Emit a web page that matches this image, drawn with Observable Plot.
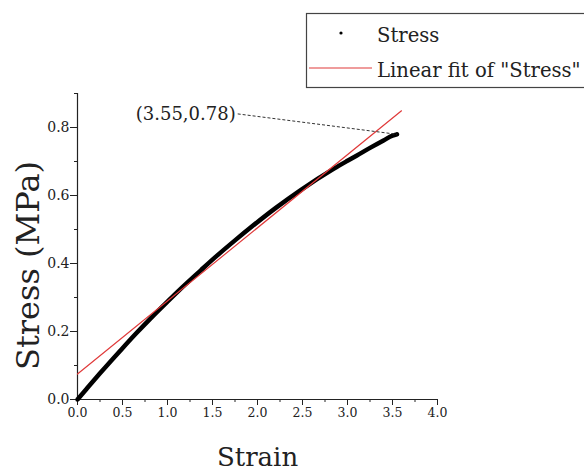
<!DOCTYPE html>
<html>
<head>
<meta charset="utf-8">
<script src="https://cdn.jsdelivr.net/npm/d3@7"></script>
<script src="https://cdn.jsdelivr.net/npm/@observablehq/plot@0.6"></script>
<style>
  body { margin: 0; background: white; }
  #wrap { position: relative; width: 584px; height: 471px; }
  #legend { position: absolute; left: 0; top: 0; }
</style>
</head>
<body>
<div id="wrap"></div>
<script>
// Stress–strain curve
const strain = [0, 0.1, 0.25, 0.48, 0.65, 0.81, 1.0, 1.14, 1.37, 1.55, 1.75, 1.92, 2.2, 2.48, 2.85, 3.0, 3.1, 3.25, 3.4, 3.5, 3.55];
const stress = [0, 0.031, 0.077, 0.145, 0.194, 0.238, 0.288, 0.324, 0.38, 0.423, 0.468, 0.505, 0.563, 0.616, 0.679, 0.702, 0.717, 0.74, 0.762, 0.776, 0.78];

// Linear fit of "Stress"
const fitIntercept = 0.075;
const fitSlope = 0.215;
const fitRange = [0, 3.6];

// Annotation
const annotPoint = [3.55, 0.78];
const annotLabelAt = [1.78, 0.84];
const annotText = "(3.55,0.78)";

// Ticks
const xTicks = [0, 0.5, 1, 1.5, 2, 2.5, 3, 3.5, 4];
const xMinor = [0.25, 0.75, 1.25, 1.75, 2.25, 2.75, 3.25, 3.75];
const yTicks = [0, 0.2, 0.4, 0.6, 0.8];
const yMinor = [0.1, 0.3, 0.5, 0.7, 0.9];

const xLabel = "Strain";
const yLabel = "Stress (MPa)";
const legendLabels = ["Stress", "Linear fit of \"Stress\""];

const curve = strain.map((x, i) => ({x, y: stress[i]}));
const fit = fitRange.map(x => ({x, y: fitIntercept + fitSlope * x}));
const annot = [{x1: annotLabelAt[0], y1: annotLabelAt[1], x2: annotPoint[0], y2: annotPoint[1], text: annotText}];

const fmt = d3.format(".1f");
const serif = "DejaVu Serif";

const chart = Plot.plot({
  width: 584,
  height: 471,
  marginLeft: 77,
  marginRight: 147,
  marginTop: 93,
  marginBottom: 72,
  x: {domain: [0, 4]},
  y: {domain: [0, 0.9]},
  style: {fontFamily: serif, fontSize: "12px", color: "#222", background: "white", overflow: "visible"},
  marks: [
    Plot.axisX(xTicks, {tickSize: 6, tickPadding: 3, tickFormat: fmt, label: null, stroke: "#222", fontSize: 12}),
    Plot.axisX(xMinor, {tickSize: 3, tickFormat: () => "", label: null, stroke: "#222"}),
    Plot.axisY(yTicks, {tickSize: 7, tickPadding: 1, tickFormat: fmt, label: null, stroke: "#222", fontSize: 13}),
    Plot.axisY(yMinor, {tickSize: 3, tickFormat: () => "", label: null, stroke: "#222"}),
    Plot.ruleY([0], {stroke: "#222", strokeWidth: 1.2}),
    Plot.ruleX([0], {stroke: "#222", strokeWidth: 1.2}),
    Plot.line(curve, {x: "x", y: "y", stroke: "black", strokeWidth: 4.5, strokeLinecap: "round", curve: "monotone-x"}),
    Plot.line(fit, {x: "x", y: "y", stroke: "#e03a3a", strokeWidth: 1.2}),
    Plot.link(annot, {x1: "x1", y1: "y1", x2: "x2", y2: "y2", stroke: "#333", strokeWidth: 1, strokeDasharray: "3,2"}),
    Plot.text(annot, {x: "x1", y: "y1", text: "text", textAnchor: "end", dx: -2, fontSize: 18, fill: "#222", fontFamily: serif}),
    Plot.text([xLabel], {text: d => d, frameAnchor: "bottom", textAnchor: "middle", lineAnchor: "bottom", dy: 66, fontSize: 26, fill: "#222", fontFamily: serif}),
    Plot.text([yLabel], {text: d => d, frameAnchor: "left", textAnchor: "middle", lineAnchor: "middle", dx: -49, dy: 19, rotate: -90, fontSize: 32, fill: "#222", fontFamily: serif})
  ]
});

const wrap = document.getElementById("wrap");
wrap.appendChild(chart);

// Tick-label sizes: y labels slightly larger, as in the reference
const yTickText = new Set(yTicks.map(fmt));
const xTickText = new Set(xTicks.map(fmt));
d3.select(chart).selectAll("text").each(function() {
  const t = this.textContent;
  if (t === annotText || t === xLabel || t === yLabel) return;
  const anchor = getComputedStyle(this).textAnchor || this.getAttribute("text-anchor");
  const parentAnchor = this.parentNode.getAttribute("text-anchor");
  if (parentAnchor === "end" && yTickText.has(t)) this.style.fontSize = "14px";
  else if (xTickText.has(t)) this.style.fontSize = "12.5px";
});

// Legend (overlay, top right)
const ns = "http://www.w3.org/2000/svg";
const leg = document.createElementNS(ns, "svg");
leg.setAttribute("id", "legend");
leg.setAttribute("width", 584);
leg.setAttribute("height", 100);
const box = document.createElementNS(ns, "rect");
box.setAttribute("x", 306.5); box.setAttribute("y", 13.5);
box.setAttribute("width", 300); box.setAttribute("height", 74);
box.setAttribute("fill", "white"); box.setAttribute("stroke", "#444"); box.setAttribute("stroke-width", 1.2);
leg.appendChild(box);
const dot = document.createElementNS(ns, "circle");
dot.setAttribute("cx", 341); dot.setAttribute("cy", 33); dot.setAttribute("r", 1.6); dot.setAttribute("fill", "black");
leg.appendChild(dot);
const ln = document.createElementNS(ns, "line");
ln.setAttribute("x1", 309); ln.setAttribute("x2", 372); ln.setAttribute("y1", 68); ln.setAttribute("y2", 68);
ln.setAttribute("stroke", "#e03a3a"); ln.setAttribute("stroke-width", 1.2);
leg.appendChild(ln);
[[legendLabels[0], 42], [legendLabels[1], 77]].forEach(([t, y]) => {
  const tx = document.createElementNS(ns, "text");
  tx.setAttribute("x", 377); tx.setAttribute("y", y);
  tx.setAttribute("font-family", serif); tx.setAttribute("font-size", 19.6); tx.setAttribute("fill", "#222");
  tx.textContent = t;
  leg.appendChild(tx);
});
wrap.appendChild(leg);
</script>
</body>
</html>
